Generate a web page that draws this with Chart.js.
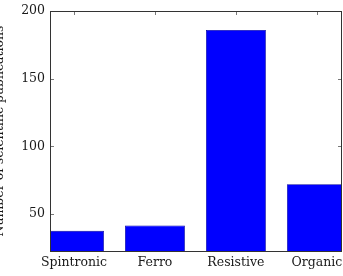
<!DOCTYPE html>
<html>
<head>
<meta charset="utf-8">
<script src="https://cdn.jsdelivr.net/npm/chart.js@4"></script>
<style>
  html, body { margin: 0; padding: 0; background: #fff; overflow: hidden; }
  #wrap { position: absolute; left: -8px; top: 0; width: 351px; height: 276px; }
</style>
</head>
<body>
<div id="wrap"><canvas id="pubChart" width="351" height="276"></canvas></div>
<script>
// Data
const categories = ["Spintronic", "Ferro", "Resistive", "Organic"]
const publications = [37.5, 41.5, 186, 72]
const yTicks = [50, 100, 150, 200]

const serif = "'DejaVu Serif', 'Liberation Serif', serif"

// pgfplots-like frame with inward ticks
const framePlugin = {
  id: "frame",
  beforeDatasetsDraw(chart) {
    const { ctx, chartArea: a, scales } = chart
    ctx.save()
    ctx.strokeStyle = "#555"
    ctx.lineWidth = 0.8
    ctx.beginPath()
    yTicks.forEach((v) => {
      const y = Math.round(scales.y.getPixelForValue(v)) + 0.5
      ctx.moveTo(a.left, y); ctx.lineTo(a.left + 4, y)
      ctx.moveTo(a.right, y); ctx.lineTo(a.right - 4, y)
    })
    categories.forEach((c, i) => {
      const x = Math.round(scales.x.getPixelForValue(i)) + 0.5
      ctx.moveTo(x, a.top); ctx.lineTo(x, a.top + 4)
      ctx.moveTo(x, a.bottom); ctx.lineTo(x, a.bottom - 4)
    })
    ctx.stroke()
    ctx.restore()
  },
  afterDatasetsDraw(chart) {
    const { ctx, chartArea: a } = chart
    ctx.save()
    ctx.strokeStyle = "#333"
    ctx.lineWidth = 1
    ctx.strokeRect(Math.round(a.left) + 0.5, Math.round(a.top) + 0.5,
      Math.round(a.right - a.left) - 1, Math.round(a.bottom - a.top))
    ctx.restore()
  },
}

new Chart(document.getElementById("pubChart"), {
  type: "bar",
  data: {
    datasets: [
      {
        label: "Publications",
        data: publications.map((v, i) => ({ x: i, y: v })),
        backgroundColor: "#0000ff",
        borderColor: "#0000a0",
        borderWidth: 0.8,
        barPercentage: 1,
        categoryPercentage: 0.74,
      },
    ],
  },
  options: {
    responsive: false,
    animation: false,
    layout: { padding: { top: 11, right: 1, left: 0, bottom: 0 } },
    plugins: { legend: { display: false }, tooltip: { enabled: false } },
    scales: {
      x: {
        type: "linear",
        offset: false,
        min: -0.296,
        max: 3.31,
        grid: { display: false, drawTicks: false, tickLength: 0 },
        border: { display: false },
        afterBuildTicks: (scale) => {
          scale.ticks = categories.map((c, i) => ({ value: i }))
        },
        afterFit: (scale) => {
          scale.height = 25
          scale.paddingLeft = 0
          scale.paddingRight = 0
        },
        ticks: {
          color: "#1a1a1a",
          padding: 4,
          maxRotation: 0,
          autoSkip: false,
          font: { family: serif, size: 12.5 },
          callback: (v) => categories[v],
        },
      },
      y: {
        min: 22.6,
        max: 200,
        grid: { display: false, drawTicks: false, tickLength: 0 },
        border: { display: false },
        afterBuildTicks: (scale) => {
          scale.ticks = yTicks.map((v) => ({ value: v }))
        },
        afterFit: (scale) => {
          scale.width = 58
          scale.paddingTop = 0
          scale.paddingBottom = 0
        },
        title: {
          display: true,
          text: "Number of scientific publications",
          color: "#1a1a1a",
          padding: 0,
          font: { family: serif, size: 12.5 },
        },
        ticks: {
          color: "#1a1a1a",
          padding: 5,
          font: { family: serif, size: 12.5 },
        },
      },
    },
  },
  plugins: [framePlugin],
})
</script>
</body>
</html>
